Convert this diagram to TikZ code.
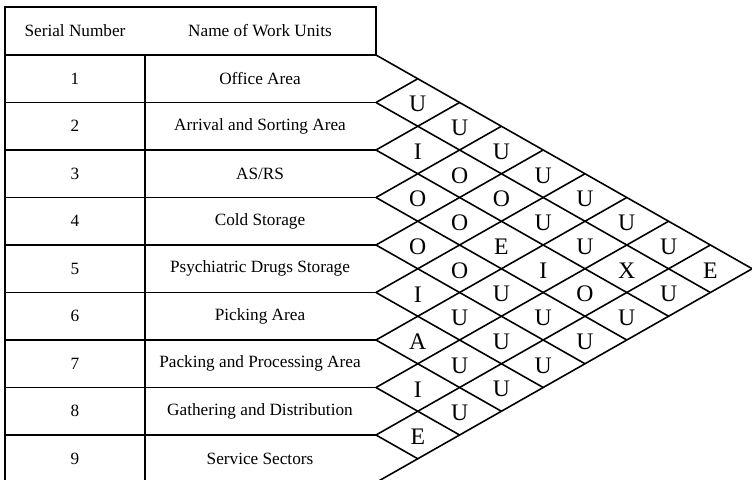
\documentclass[tikz,border=0pt]{standalone}
\usepackage{fontspec}
\setmainfont{Liberation Serif}

\begin{document}
\begin{tikzpicture}[x=0.02cm, y=-0.02cm,
          cell/.style={font=\fontsize{9.8}{12}\selectfont, inner sep=0pt},
          rel/.style={font=\fontsize{13.5}{16}\selectfont, inner sep=0pt},
          rule/.style={line width=0.9pt}
      ]
        \useasboundingbox (0,0) rectangle (752,480);
        \draw[rule] (5,7) rectangle (376,55);
        \draw[rule] (5,55) -- (5,482.5);
        \draw[rule] (145,55) -- (145,482.5);
        \foreach \k in {1,...,8}
          \draw[rule] (5,{55+47.5*\k}) -- (376,{55+47.5*\k});
        \foreach \k in {0,...,9} {
          \draw[rule] (376,{55+47.5*\k}) -- ++({(9-\k)*41.8},{(9-\k)*23.75});
          \draw[rule] (376,{55+47.5*\k}) -- ++({\k*41.8},{-\k*23.75});
        }
        \node[cell] (hnum) at (75,31) {Serial Number};
        \node[cell] (hname) at (260,31) {Name of Work Units};
        \foreach \i/\name in {1/Office Area, 2/Arrival and Sorting Area, 3/{AS/RS},
            4/Cold Storage, 5/Psychiatric Drugs Storage, 6/Picking Area,
            7/Packing and Processing Area, 8/Gathering and Distribution, 9/Service Sectors} {
          \node[cell] (num\i) at (75,{31.25+47.5*\i}) {\i};
          \node[cell] (unit\i) at (260,{31.25+47.5*\i}) {\name};
        }
        \foreach \i/\j/\r in {1/2/U, 2/3/I, 3/4/O, 4/5/O, 5/6/I, 6/7/A, 7/8/I, 8/9/E,
            1/3/U, 2/4/O, 3/5/O, 4/6/O, 5/7/U, 6/8/U, 7/9/U,
            1/4/U, 2/5/O, 3/6/E, 4/7/U, 5/8/U, 6/9/U,
            1/5/U, 2/6/U, 3/7/I, 4/8/U, 5/9/U,
            1/6/U, 2/7/U, 3/8/O, 4/9/U,
            1/7/U, 2/8/X, 3/9/U,
            1/8/U, 2/9/U,
            1/9/E}
          \node[rel] (p\i\j) at ({376+(\j-\i)*41.8},{33+23.75*(\i+\j)}) {\r};
      \end{tikzpicture}
\end{document}
